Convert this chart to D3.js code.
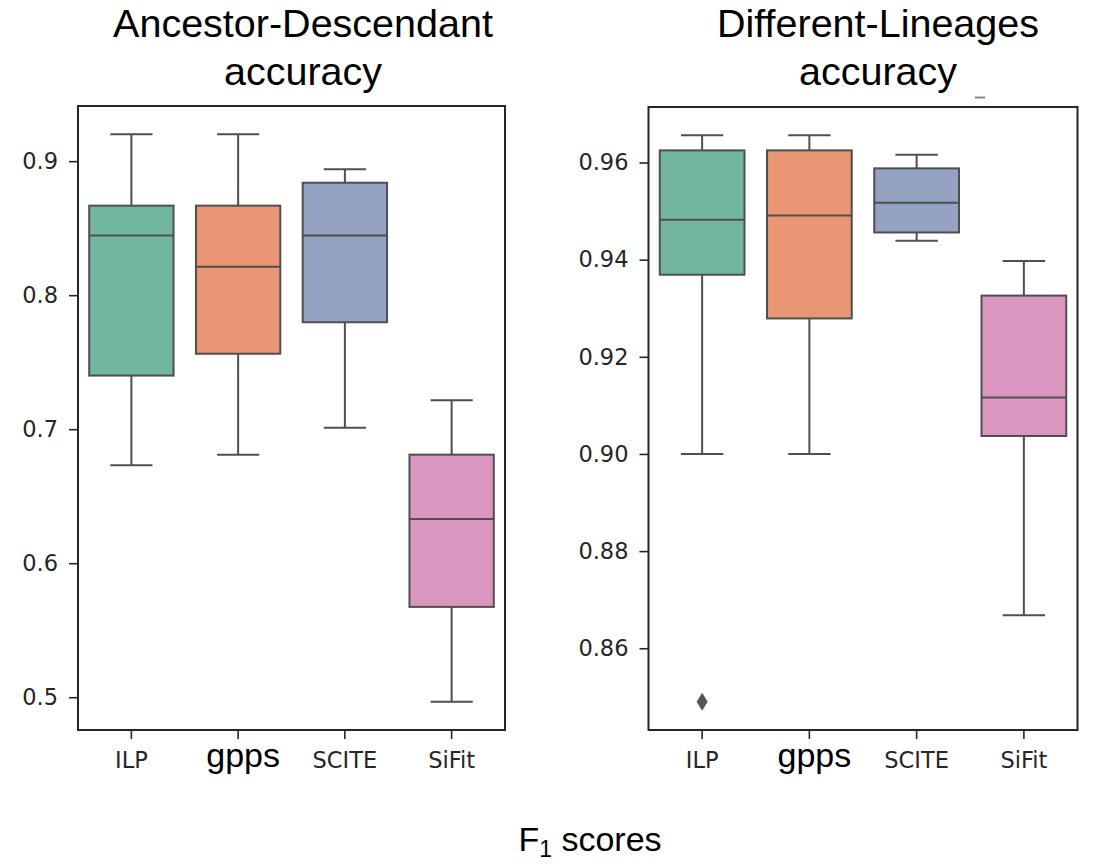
<!DOCTYPE html>
<html>
<head>
<meta charset="utf-8">
<script src="https://cdn.jsdelivr.net/npm/d3@7"></script>
<style>
    body { margin: 0; background: #fff; }
    svg { display: block; }
</style>
</head>
<body>
<svg width="1117" height="864"></svg>
<script>
// Categories and colours (seaborn Set2, desaturated)
const methods = ['ILP', 'gpps', 'SCITE', 'SiFit'];
const boxColors = ['#72b6a1', '#e99675', '#95a3c3', '#db96c0'];

// Five-number summaries: [low whisker, Q1, median, Q3, high whisker]
const ancestorStats = [
    [0.673, 0.740, 0.8445, 0.8668, 0.920],
    [0.681, 0.7563, 0.8212, 0.8668, 0.920],
    [0.701, 0.7798, 0.8445, 0.8839, 0.894],
    [0.4967, 0.5674, 0.6329, 0.681, 0.7216],
];
const ancestorOutliers = [[], [], [], []];
const ancestorTicks = [0.5, 0.6, 0.7, 0.8, 0.9];

const lineageStats = [
    [0.900, 0.9369, 0.9482, 0.9625, 0.9656],
    [0.900, 0.9279, 0.9491, 0.9625, 0.9656],
    [0.9439, 0.9456, 0.9517, 0.9588, 0.9616],
    [0.8668, 0.9037, 0.9116, 0.9326, 0.9397],
];
const lineageOutliers = [[0.849], [], [], []];
const lineageTicks = [0.86, 0.88, 0.90, 0.92, 0.94, 0.96];

const svg = d3.select('svg');
svg.append('rect').attr('width', 1117).attr('height', 864).attr('fill', '#fff');

const panels = [
    {
        stats: ancestorStats, outliers: ancestorOutliers, ticks: ancestorTicks,
        fmt: d3.format('.1f'), x0: 78, x1: 505, y0: 106, y1: 730,
        title: ['Ancestor-Descendant', 'accuracy'], titleX: 303,
    },
    {
        stats: lineageStats, outliers: lineageOutliers, ticks: lineageTicks,
        fmt: d3.format('.2f'), x0: 648.5, x1: 1077.5, y0: 107, y1: 730,
        title: ['Different-Lineages', 'accuracy'], titleX: 878,
    },
];

const edge = '#4f4f4f';
const dark = '#262626';

panels.forEach((p) => {
    const g = svg.append('g');

    // y domain: data range plus 5% margin, like matplotlib
    const all = p.stats.flat().concat(p.outliers.flat());
    const lo = d3.min(all), hi = d3.max(all);
    const pad = (hi - lo) * 0.05;
    const y = d3.scaleLinear().domain([lo - pad, hi + pad]).range([p.y1, p.y0]);
    const x = d3.scaleBand().domain(methods).range([p.x0, p.x1]);
    const bw = x.bandwidth() * 0.79;

    // Boxes
    const boxes = g.selectAll('g.box')
        .data(p.stats)
        .enter()
        .append('g')
        .attr('class', 'box');

    boxes.each(function (d, i) {
        const b = d3.select(this);
        const cx = x(methods[i]) + x.bandwidth() / 2;
        // whiskers
        b.append('line')
            .attr('x1', cx).attr('x2', cx)
            .attr('y1', y(d[0])).attr('y2', y(d[1]))
            .attr('stroke', edge).attr('stroke-width', 2);
        b.append('line')
            .attr('x1', cx).attr('x2', cx)
            .attr('y1', y(d[3])).attr('y2', y(d[4]))
            .attr('stroke', edge).attr('stroke-width', 2);
        // caps
        [d[0], d[4]].forEach((v) => {
            b.append('line')
                .attr('x1', cx - bw / 4).attr('x2', cx + bw / 4)
                .attr('y1', y(v)).attr('y2', y(v))
                .attr('stroke', edge).attr('stroke-width', 2);
        });
        // box
        b.append('rect')
            .attr('x', cx - bw / 2).attr('width', bw)
            .attr('y', y(d[3])).attr('height', y(d[1]) - y(d[3]))
            .attr('fill', boxColors[i])
            .attr('stroke', edge).attr('stroke-width', 2);
        // median
        b.append('line')
            .attr('x1', cx - bw / 2).attr('x2', cx + bw / 2)
            .attr('y1', y(d[2])).attr('y2', y(d[2]))
            .attr('stroke', edge).attr('stroke-width', 2);
        // outliers (thin diamonds)
        p.outliers[i].forEach((v) => {
            const oy = y(v);
            b.append('path')
                .attr('d', `M${cx},${oy - 9} L${cx + 5.5},${oy} L${cx},${oy + 9} L${cx - 5.5},${oy} Z`)
                .attr('fill', '#555');
        });
    });

    // Frame
    g.append('rect')
        .attr('x', p.x0).attr('y', p.y0)
        .attr('width', p.x1 - p.x0).attr('height', p.y1 - p.y0)
        .attr('fill', 'none').attr('stroke', dark).attr('stroke-width', 2);

    // Y axis
    const yAxis = g.append('g')
        .attr('transform', `translate(${p.x0},0)`)
        .call(d3.axisLeft(y).tickValues(p.ticks).tickFormat(p.fmt).tickSize(9).tickPadding(11));
    yAxis.select('.domain').remove();
    yAxis.selectAll('line').attr('stroke', dark).attr('stroke-width', 1.6);
    yAxis.selectAll('text')
        .attr('fill', dark)
        .style('font-family', '"DejaVu Sans", sans-serif')
        .style('font-size', '22.5px');

    // X axis
    const xAxis = g.append('g')
        .attr('transform', `translate(0,${p.y1})`)
        .call(d3.axisBottom(x).tickSize(9).tickPadding(0).tickFormat(''));
    xAxis.select('.domain').remove();
    xAxis.selectAll('line').attr('stroke', dark).attr('stroke-width', 1.6);
    xAxis.selectAll('.tick')
        .append('text')
        .attr('fill', (d) => (d === 'gpps' ? '#000' : dark))
        .attr('x', (d) => (d === 'gpps' ? 5 : 0))
        .attr('y', (d) => (d === 'gpps' ? 37 : 38))
        .attr('text-anchor', 'middle')
        .style('font-family', (d) => (d === 'gpps' ? '"Liberation Sans", Arial, sans-serif' : '"DejaVu Sans", sans-serif'))
        .style('font-size', (d) => (d === 'gpps' ? '34px' : '22.5px'))
        .text((d) => d);

    // Title
    g.append('text')
        .attr('x', p.titleX)
        .attr('text-anchor', 'middle')
        .style('font-family', '"Liberation Sans", Arial, sans-serif')
        .style('font-size', '39.5px')
        .attr('fill', '#000')
        .selectAll('tspan')
        .data(p.title)
        .enter()
        .append('tspan')
        .attr('x', p.titleX)
        .attr('y', (d, i) => 37 + i * 48)
        .text((d) => d);
});

// small stray mark above the right panel
svg.append('line')
    .attr('x1', 975).attr('x2', 985).attr('y1', 97.5).attr('y2', 97.5)
    .attr('stroke', '#888').attr('stroke-width', 2);

// Common x label
const xl = svg.append('text')
    .attr('x', 590).attr('y', 851)
    .attr('text-anchor', 'middle')
    .style('font-family', '"Liberation Sans", Arial, sans-serif')
    .style('font-size', '34px')
    .attr('fill', '#000');
xl.append('tspan').text('F');
xl.append('tspan').attr('dy', 6).style('font-size', '23px').text('1');
xl.append('tspan').attr('dy', -6).text(' scores');
</script>
</body>
</html>
